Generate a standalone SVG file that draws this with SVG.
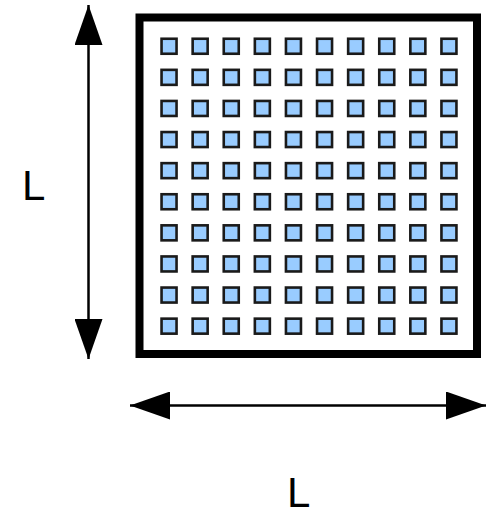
<svg xmlns="http://www.w3.org/2000/svg" xmlns:xlink="http://www.w3.org/1999/xlink" width="495" height="516" viewBox="0 0 495 516">
  <style>
    .frame { fill: #ffffff; stroke: #000000; stroke-width: 8; }
    .cell { fill: #99ccff; stroke: #1a1a1a; stroke-width: 2.6; }
    .dim { fill: none; stroke: #000000; stroke-width: 2.5; }
    .label { font-family: "Liberation Sans", Arial, sans-serif; font-size: 42px; fill: #000000; }
  </style>
  <defs>
    <marker id="head" markerUnits="userSpaceOnUse" markerWidth="40" markerHeight="28" viewBox="0 0 40 28" refX="40" refY="14" orient="auto-start-reverse">
      <path d="M0,0 L40,14 L0,28 Z" fill="#000000"/>
    </marker>
    <rect id="cell" class="cell" x="-0.75" y="-0.75" width="15" height="15"/>
    <!-- one row of ten cells, 31.1px apart -->
    <g id="cellrow">
      <use xlink:href="#cell" x="162.3"/>
      <use xlink:href="#cell" x="193.4"/>
      <use xlink:href="#cell" x="224.5"/>
      <use xlink:href="#cell" x="255.6"/>
      <use xlink:href="#cell" x="286.7"/>
      <use xlink:href="#cell" x="317.8"/>
      <use xlink:href="#cell" x="348.9"/>
      <use xlink:href="#cell" x="380"/>
      <use xlink:href="#cell" x="411.1"/>
      <use xlink:href="#cell" x="442.2"/>
    </g>
  </defs>

  <rect width="495" height="516" fill="#ffffff"/>

  <!-- outer square -->
  <g id="square">
    <rect class="frame" x="139.5" y="17.5" width="337.5" height="336.5"/>
  </g>

  <!-- 10 x 10 grid of cells -->
  <g id="grid">
    <use xlink:href="#cellrow" y="39.5"/>
    <use xlink:href="#cellrow" y="70.6"/>
    <use xlink:href="#cellrow" y="101.7"/>
    <use xlink:href="#cellrow" y="132.8"/>
    <use xlink:href="#cellrow" y="163.9"/>
    <use xlink:href="#cellrow" y="195"/>
    <use xlink:href="#cellrow" y="226.1"/>
    <use xlink:href="#cellrow" y="257.2"/>
    <use xlink:href="#cellrow" y="288.3"/>
    <use xlink:href="#cellrow" y="319.4"/>
  </g>

  <!-- dimension arrows -->
  <g id="connectors">
    <line class="dim" x1="88.5" y1="5" x2="88.5" y2="359" marker-start="url(#head)" marker-end="url(#head)"/>
    <line class="dim" x1="130" y1="405.5" x2="486" y2="405.5" marker-start="url(#head)" marker-end="url(#head)"/>
  </g>

  <g id="label-height">
    <text class="label" x="22" y="200">L</text>
  </g>
  <g id="label-width">
    <text class="label" x="287" y="507">L</text>
  </g>
</svg>
